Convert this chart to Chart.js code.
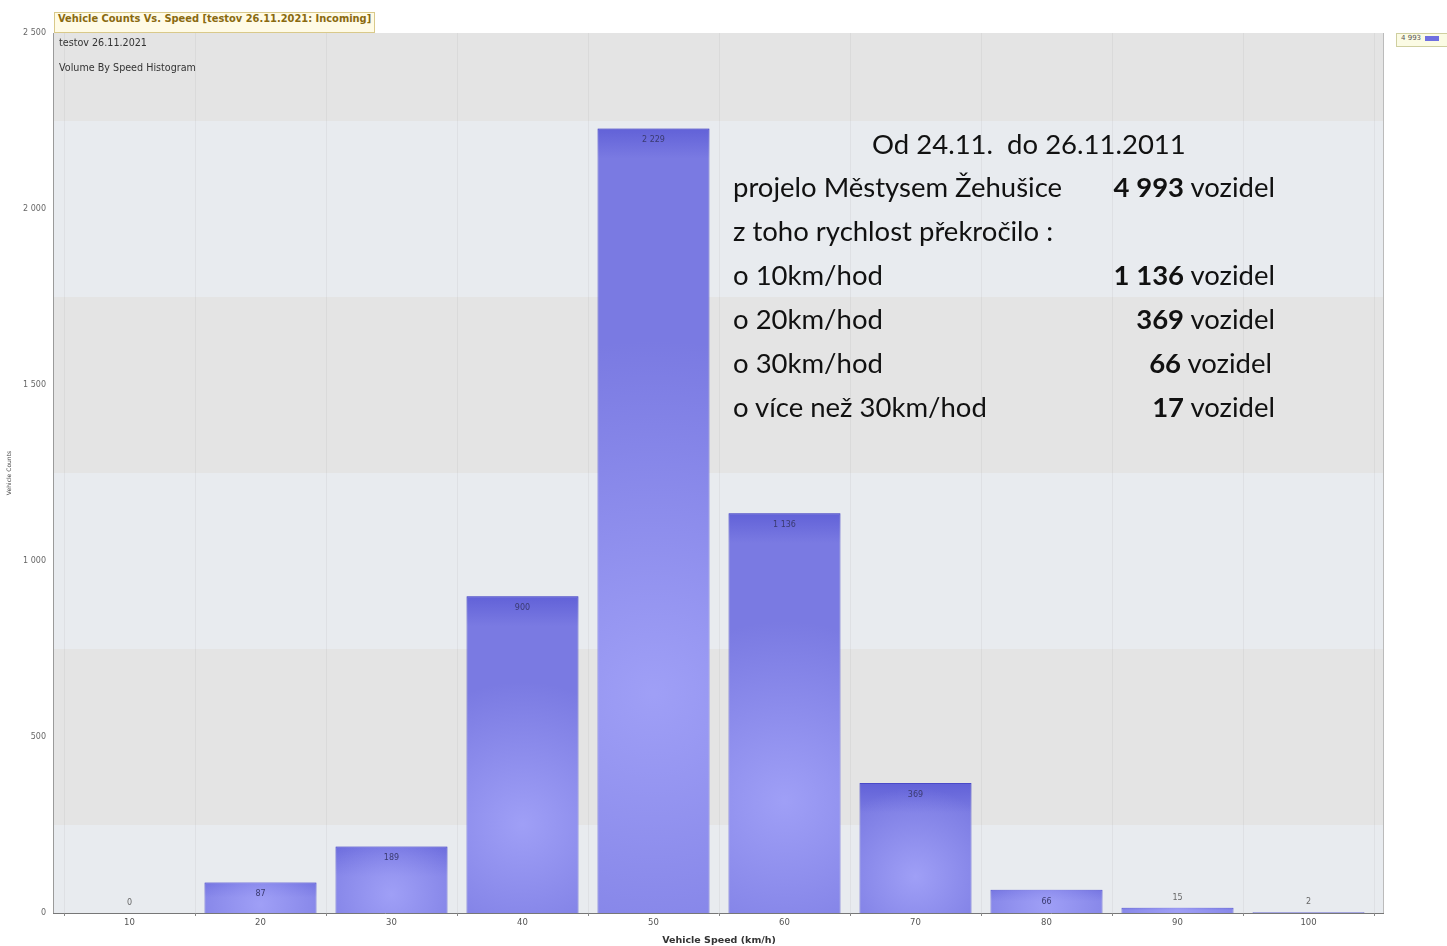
<!DOCTYPE html>
<html>
<head>
<meta charset="utf-8">
<script src="https://cdn.jsdelivr.net/npm/chart.js@4"></script>
<style>
  html,body{margin:0;padding:0;background:#fff;}
  #wrap{position:relative;width:1447px;height:946px;overflow:hidden;}
  canvas{position:absolute;left:0;top:0;}
  .ov{position:absolute;white-space:nowrap;}
  #ttl{left:54px;top:12px;height:19px;line-height:19px;padding:0 3px;background:#fffbe6;border:1px solid #d9c98a;color:#8a6a10;font:bold 9.9px "DejaVu Sans";}
  .sub{font:9.6px "DejaVu Sans";color:#333;left:59px;}
  #leg{left:1396px;top:33px;height:12px;line-height:12px;width:60px;background:#fbfbe4;border:1px solid #cfcfa0;font:7px "DejaVu Sans";color:#555;padding-left:4px;}
  #leg span{display:inline-block;width:14px;height:5px;background:#6f6fe0;margin-left:4px;vertical-align:middle;}
  .ann{font:27.5px Lato;color:#111;left:733px;}
  .rt{position:absolute;left:0;width:542px;text-align:right;}
</style>
</head>
<body>
<div id="wrap">
<canvas id="c" width="1447" height="946"></canvas>
<div class="ov" id="ttl">Vehicle Counts Vs. Speed [testov 26.11.2021: Incoming]</div>
<div class="ov sub" style="top:37px">testov 26.11.2021</div>
<div class="ov sub" style="top:62px">Volume By Speed Histogram</div>
<div class="ov" id="leg">4 993<span></span></div>
<div class="ov ann" style="top:127px;left:872px">Od 24.11.&nbsp; do 26.11.2011</div>
<div class="ov ann" style="top:170px">projelo Městysem Žehušice</div>
<div class="ov ann" style="top:214px">z toho rychlost překročilo :</div>
<div class="ov ann" style="top:258px">o 10km/hod</div>
<div class="ov ann" style="top:302px">o 20km/hod</div>
<div class="ov ann" style="top:346px">o 30km/hod</div>
<div class="ov ann" style="top:390px">o více než 30km/hod</div>
<div class="ov ann" style="top:170px;left:733px;width:542px"><div class="rt"><b>4 993</b> vozidel</div></div>
<div class="ov ann" style="top:258px;left:733px;width:542px"><div class="rt"><b>1 136</b> vozidel</div></div>
<div class="ov ann" style="top:302px;left:733px;width:542px"><div class="rt"><b>369</b> vozidel</div></div>
<div class="ov ann" style="top:346px;left:733px;width:539px"><div class="rt" style="width:539px"><b>66</b> vozidel</div></div>
<div class="ov ann" style="top:390px;left:733px;width:542px"><div class="rt"><b>17</b> vozidel</div></div>
</div>
<script>
const speedCategories = ['10','20','30','40','50','60','70','80','90','100'];
const vehicleCounts = [0, 87, 189, 900, 2229, 1136, 369, 66, 15, 2];
const yTickValues = [0, 500, 1000, 1500, 2000, 2500];
const bandEdges = [0, 250, 750, 1250, 1750, 2250, 2500];

function fmt(v){ return String(v).replace(/\B(?=(\d{3})+(?!\d))/g,' '); }

const bgPlugin = {
  id:'bg',
  beforeDraw(chart){
    const {ctx, chartArea:a, scales:{y}} = chart;
    const L = a.left - 11, R = a.right + 9;
    for(let i=0;i<bandEdges.length-1;i++){
      const t = y.getPixelForValue(bandEdges[i+1]);
      const b = y.getPixelForValue(bandEdges[i]);
      ctx.fillStyle = (i%2===0) ? '#e8ebef' : '#e4e4e4';
      ctx.fillRect(L, t, R-L, b-t);
    }
    ctx.strokeStyle = '#9a9a9a'; ctx.lineWidth = 1;
    ctx.beginPath(); ctx.moveTo(L+0.5, a.top); ctx.lineTo(L+0.5, a.bottom); ctx.stroke();
    ctx.strokeStyle = '#bbbbbb';
    ctx.beginPath(); ctx.moveTo(R+0.5, a.top); ctx.lineTo(R+0.5, a.bottom); ctx.stroke();
    ctx.strokeStyle = '#777';
    ctx.beginPath(); ctx.moveTo(L, a.bottom+0.5); ctx.lineTo(R+1, a.bottom+0.5); ctx.stroke();
  }
};

const barPlugin = {
  id:'barfx',
  afterDatasetsDraw(chart){
    const ctx = chart.ctx;
    const meta = chart.getDatasetMeta(0);
    meta.data.forEach((el,i)=>{
      const x0 = el.x - el.width/2, w = el.width, top = el.y, h = el.base - el.y;
      if(h > 1){
        ctx.save();
        ctx.beginPath(); ctx.rect(x0, top, w, h); ctx.clip();
        const lg = ctx.createLinearGradient(0, top, 0, el.base);
        lg.addColorStop(0, 'rgba(60,60,200,0.4)');
        lg.addColorStop(Math.min(0.5, 30/h), 'rgba(60,60,200,0.0)');
        lg.addColorStop(1, 'rgba(60,60,200,0.0)');
        ctx.fillStyle = lg; ctx.fillRect(x0, top, w, h);
        const cy = top + h*0.72;
        const rg = ctx.createRadialGradient(el.x, cy, 0, el.x, cy, Math.max(w*0.8, h*0.45));
        rg.addColorStop(0, 'rgba(175,175,255,0.7)');
        rg.addColorStop(1, 'rgba(175,175,255,0)');
        ctx.fillStyle = rg; ctx.fillRect(x0, top, w, h);
        ctx.restore();
      }
      ctx.save();
      ctx.font = '8px "DejaVu Sans"';
      ctx.textAlign = 'center';
      const v = vehicleCounts[i];
      if(h > 20){ ctx.fillStyle = '#3a3a70'; ctx.fillText(fmt(v), el.x, top + 14); }
      else { ctx.fillStyle = '#666'; ctx.fillText(fmt(v), el.x, top - 8); }
      ctx.restore();
    });
  }
};

new Chart(document.getElementById('c'), {
  type:'bar',
  data:{
    labels: speedCategories,
    datasets:[{
      data: vehicleCounts,
      backgroundColor:'#7a7ae2',
      borderColor:'#5050c8',
      borderWidth:1,
      barPercentage:0.855,
      categoryPercentage:1.0
    }]
  },
  options:{
    responsive:false,
    animation:false,
    events:[],
    layout:{padding:{left:0,right:73,top:33,bottom:0}},
    plugins:{legend:{display:false},tooltip:{enabled:false}},
    scales:{
      x:{
        offset:true,
        grid:{offset:true,color:'rgba(0,0,0,0.045)',drawTicks:true,tickLength:3,tickColor:'#888'},
        border:{display:false},
        ticks:{font:{size:8.5,family:'DejaVu Sans'},color:'#555',padding:2},
        title:{display:true,text:'Vehicle Speed (km/h)',font:{size:9.5,weight:'bold',family:'DejaVu Sans'},color:'#333',padding:{top:1,bottom:0}},
        afterFit(s){ s.height = 33; }
      },
      y:{
        min:0,max:2500,
        afterBuildTicks(s){ s.ticks = yTickValues.map(v=>({value:v})); },
        grid:{display:false,drawTicks:false},
        border:{display:false},
        ticks:{font:{size:8,family:'DejaVu Sans'},color:'#666',padding:18,callback:(v)=>fmt(v)},
        title:{display:true,text:'Vehicle Counts',font:{size:6,family:'DejaVu Sans'},color:'#444',padding:{top:6,bottom:0}},
        afterFit(s){ s.width = 64; }
      }
    }
  },
  plugins:[bgPlugin, barPlugin]
});
</script>
</body>
</html>
